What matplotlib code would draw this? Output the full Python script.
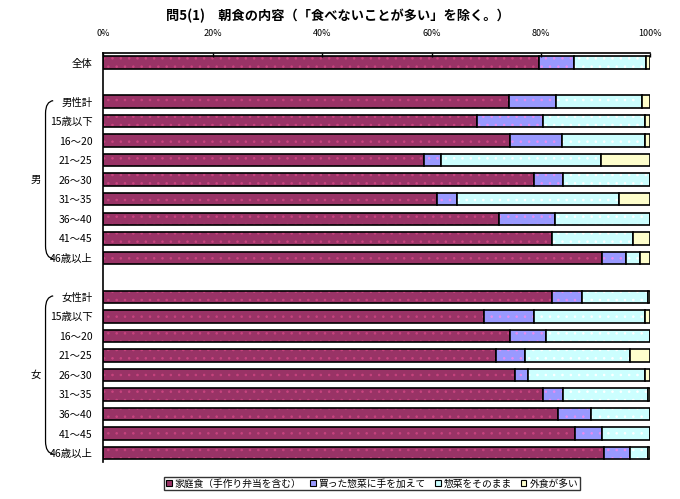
import matplotlib
matplotlib.use("Agg")
from matplotlib import pyplot as plt
from matplotlib.path import Path
from matplotlib.patches import PathPatch, Patch
from matplotlib.transforms import blended_transform_factory

plt.rcParams['font.family'] = ['Noto Sans CJK JP', 'DejaVu Sans']
plt.rcParams['hatch.linewidth'] = 0.6

series_names = ['家庭食（手作り弁当を含む）', '買った惣菜に手を加えて', '惣菜をそのまま', '外食が多い']
colors = ['#993366', '#9999ff', '#ccffff', '#ffffcc']
dot_colors = ['#c8447f', '#e98cf0', '#ffffff', '#ffffcc']

total_label = ['全体']
total_vals = [[79.7, 6.4, 13.2, 0.7]]

age_labels = ['15歳以下', '16～20', '21～25', '26～30', '31～35',
              '36～40', '41～45', '46歳以上']
male_labels = ['男性計'] + age_labels
male_home = [74.2, 68.4, 74.4, 58.7, 78.8, 61.0, 72.4, 82.1, 91.2]
male_bought = [8.6, 12.0, 9.5, 3.1, 5.3, 3.7, 10.2, 0.0, 4.4]
male_asis = [15.7, 18.7, 15.2, 29.2, 15.9, 29.6, 17.4, 14.8, 2.6]
male_out = [1.5, 0.9, 0.9, 9.0, 0.0, 5.7, 0.0, 3.1, 1.8]

female_labels = ['女性計'] + age_labels
female_home = [82.1, 69.5, 74.4, 71.8, 75.3, 80.4, 83.2, 86.3, 91.6]
female_bought = [5.5, 9.3, 6.6, 5.3, 2.3, 3.7, 6.0, 4.9, 4.6]
female_asis = [12.0, 20.3, 19.0, 19.2, 21.5, 15.4, 10.8, 8.8, 3.3]
female_out = [0.4, 0.9, 0.0, 3.7, 0.9, 0.5, 0.0, 0.0, 0.5]

# assemble rows (one blank slot between groups)
labels = total_label + male_labels + female_labels
rows = list(total_vals)
rows += [list(v) for v in zip(male_home, male_bought, male_asis, male_out)]
rows += [list(v) for v in zip(female_home, female_bought, female_asis, female_out)]
pos = [0] + [2 + i for i in range(len(male_labels))] + [12 + i for i in range(len(female_labels))]

fig = plt.figure(figsize=(6.8, 4.99), dpi=100)
ax = fig.add_axes([0.1522, 0.0741, 0.8041, 0.8197])

left = [0.0] * len(rows)
for k in range(4):
    w = [r[k] for r in rows]
    ax.barh(pos, w, left=left, height=0.64, color=colors[k], edgecolor='none', linewidth=0)
    if k < 3:
        ax.barh(pos, w, left=left, height=0.64, color='none', edgecolor=dot_colors[k],
                hatch='..', linewidth=0)
    ax.barh(pos, w, left=left, height=0.64, color='none', edgecolor='black', linewidth=1.2)
    left = [a + b for a, b in zip(left, w)]

ax.set_xlim(0, 100)
ax.set_ylim(20.46, -0.49)
ax.set_xticks([0, 20, 40, 60, 80, 100])
ax.set_xticklabels(['0%', '20%', '40%', '60%', '80%', '100%'], fontsize=6.5)
ax.xaxis.tick_top()
ax.tick_params(axis='x', direction='in', length=3, pad=11, width=1)
ax.set_yticks(pos)
ax.set_yticklabels(labels, fontsize=7.5)
ax.tick_params(axis='y', length=0, pad=8)
for s in ['right', 'bottom']:
    ax.spines[s].set_visible(False)
for s in ['left', 'top']:
    ax.spines[s].set_linewidth(1.2)

# group brackets
tr = blended_transform_factory(ax.transAxes, ax.transData)
for name, y0, y1 in [('男', pos[1], pos[9]), ('女', pos[10], pos[18])]:
    xt, xl = -0.092, -0.106
    verts = [(xt, y0 - 0.05), (xl, y0), (xl, y0 + 0.6),
             (xl, y1 - 0.6),
             (xl, y1 - 0.6), (xl, y1), (xt, y1 + 0.05)]
    codes = [Path.MOVETO, Path.CURVE3, Path.CURVE3, Path.LINETO,
             Path.MOVETO, Path.CURVE3, Path.CURVE3]
    ax.add_patch(PathPatch(Path(verts, codes), transform=tr, fill=False,
                           lw=0.9, color='black', clip_on=False))
    ax.text(-0.124, (y0 + y1) / 2, name, transform=tr, fontsize=7.5,
            ha='center', va='center')

fig.text(0.497, 0.967, '問5(1)　朝食の内容（「食べないことが多い」を除く。）',
         fontsize=9.5, fontweight='bold', ha='center', va='center')

handles = [Patch(facecolor=c, edgecolor='black', linewidth=0.8) for c in colors]
leg = fig.legend(handles, series_names, loc='center', bbox_to_anchor=(0.547, 0.031),
                 ncol=4, fontsize=7, frameon=True, fancybox=False, handlelength=0.6,
                 handleheight=0.6, handletextpad=0.3, columnspacing=0.9,
                 borderpad=0.2, borderaxespad=0)
leg.get_frame().set_edgecolor('black')
leg.get_frame().set_linewidth(1.0)

fig.savefig('out.png', dpi=100)
